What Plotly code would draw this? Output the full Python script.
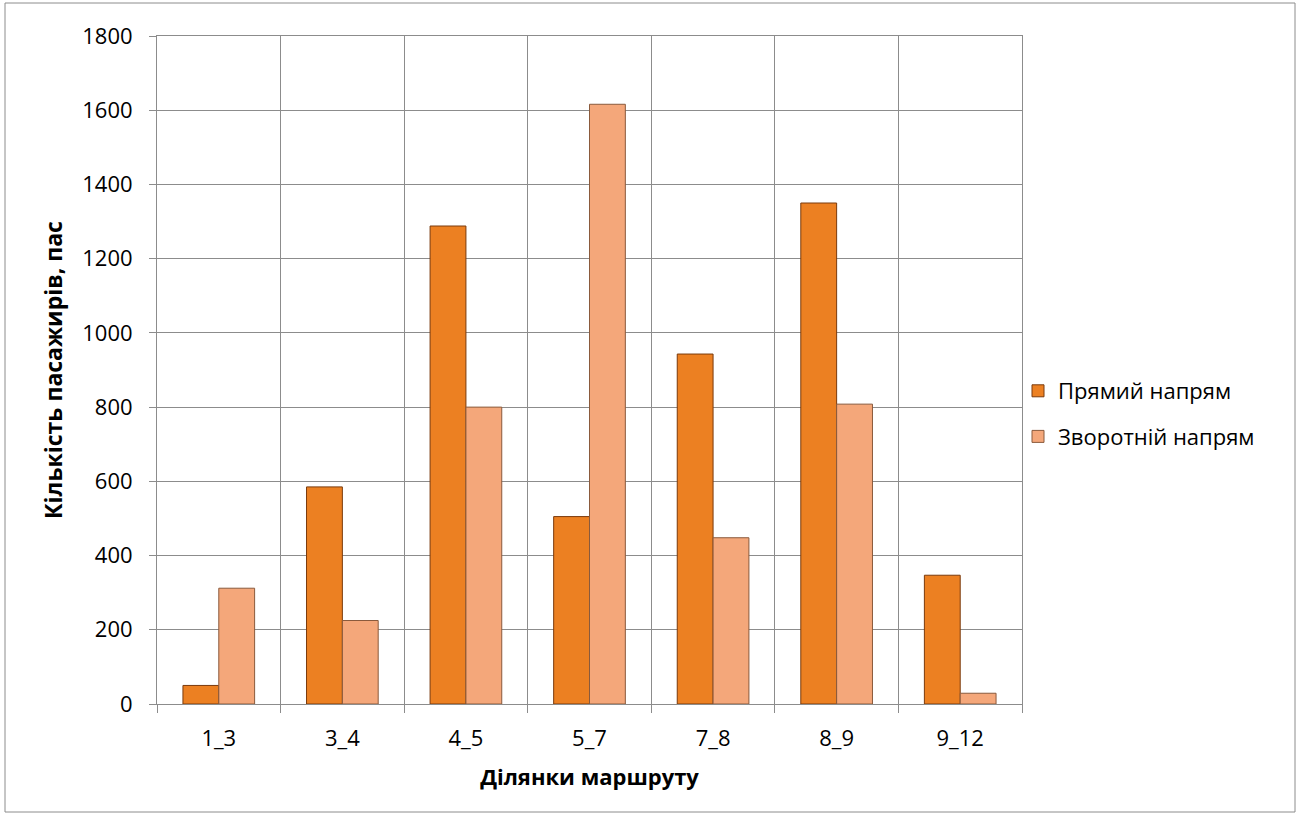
import plotly.graph_objects as go

categories = ["1_3", "3_4", "4_5", "5_7", "7_8", "8_9", "9_12"]
forward = [50, 585, 1288, 505, 943, 1350, 347]
backward = [312, 225, 800, 1616, 448, 808, 29]
y_ticks = [0, 200, 400, 600, 800, 1000, 1200, 1400, 1600, 1800]

FONT = "'Open Sans', 'Noto Sans', Arial, sans-serif"

fig = go.Figure()
fig.add_trace(go.Bar(
    x=categories, y=forward, name="Прямий напрям", legendgroup="a",
    marker=dict(color="#EC8022", line=dict(color="#7A3A0C", width=1)),
))
fig.add_trace(go.Bar(
    x=categories, y=backward, name="Зворотній напрям", legendgroup="b",
    marker=dict(color="#F4A77A", line=dict(color="#8A5A3C", width=1)),
))

L, R, T, B = 157, 1022, 36, 704
W, H = 1300, 818
pw, ph = R - L, B - T

fig.update_layout(
    width=W, height=H,
    margin=dict(l=L, r=W - R, t=T, b=H - B),
    paper_bgcolor="white", plot_bgcolor="white",
    barmode="group", bargap=0.42, bargroupgap=0,
    font=dict(family=FONT, size=22, color="black"),
    legend=dict(x=(1018 - L) / pw, y=(704 - 414) / ph, xanchor="left", yanchor="middle",
                font=dict(size=22), tracegroupgap=14, bgcolor="rgba(0,0,0,0)"),
    shapes=[dict(type="rect", xref="paper", yref="paper",
                 x0=(5 - L) / pw, x1=(1295 - L) / pw,
                 y0=(B - 812) / ph, y1=(B - 3) / ph,
                 line=dict(color="#8C8C8C", width=1), fillcolor="rgba(0,0,0,0)", layer="below")],
)
fig.update_xaxes(
    type="category", tickson="boundaries", showgrid=True, gridcolor="#8C8C8C", gridwidth=1,
    ticks="outside", ticklen=8, tickcolor="#8C8C8C", showline=True, linecolor="#8C8C8C",
    mirror=True, tickfont=dict(size=22), ticklabelstandoff=15,
    title=dict(text="<b>Ділянки маршруту</b>", font=dict(size=22), standoff=18),
)
fig.update_yaxes(
    range=[0, 1800], tickvals=y_ticks, showgrid=True, gridcolor="#8C8C8C", gridwidth=1,
    ticks="outside", ticklen=7, tickcolor="#8C8C8C", showline=True, linecolor="#8C8C8C",
    mirror=True, zeroline=False, tickfont=dict(size=22), ticklabelstandoff=12,
    title=dict(text="<b>Кількість пасажирів, пас</b>", font=dict(size=23), standoff=13),
)

fig.write_html("out.html", config={"displayModeBar": False},
               post_script="document.body.style.margin='0px';document.body.style.overflow='hidden';")
